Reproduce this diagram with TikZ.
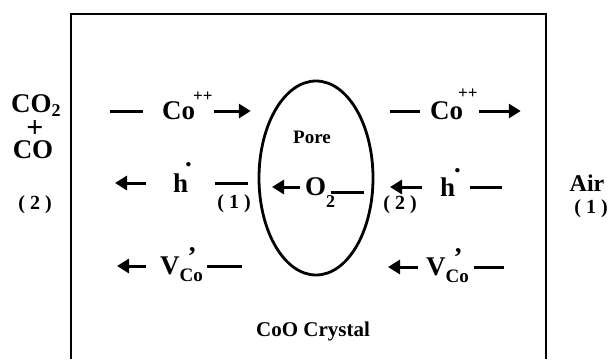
\documentclass[tikz,border=0pt]{standalone}
\usepackage{fontspec}
\setmainfont{Liberation Serif}
\usetikzlibrary{arrows.meta,shapes.geometric}

\newcommand{\sups}[2]{\smash{\raisebox{#1}{\fontsize{17}{17}\selectfont #2}}}
\newcommand{\subs}[2]{\smash{\raisebox{#1}{\fontsize{18}{18}\selectfont #2}}}

\begin{document}
\begin{tikzpicture}[x=1pt, y=-1pt, >={Triangle[length=12pt,width=14pt]},
  species/.style={font=\bfseries\fontsize{27}{27}\selectfont, inner sep=0pt},
  label/.style={font=\bfseries\fontsize{20}{20}\selectfont, inner sep=0pt},
  flux/.style={line width=3pt}]
\useasboundingbox (0,0) rectangle (612,359);
% crystal and pore
\draw[line width=2.5pt] (71,359) -- (71,14) -- (546,14) -- (546,359);
\node[draw, ellipse, line width=2.8pt, minimum width=114, minimum height=194] (pore) at (316,178) {};
\node[label, font=\bfseries\fontsize{19}{19}\selectfont] (poretxt) at (312,137) {Pore};
\node[label, font=\bfseries\fontsize{21}{21}\selectfont] (crystal) at (313,331) {CoO Crystal};
% gas sides
\node[species, anchor=west] (co2) at (11,104) {CO\subs{-4pt}{2}};
\node[species, font=\bfseries\fontsize{30}{30}\selectfont] (plus) at (35,129) {+};
\node[species] (co) at (33,150) {CO};
\node[label] (sideL) at (35,205) {( 2 )};
\node[species, font=\bfseries\fontsize{24}{24}\selectfont] (air) at (587,183) {Air};
\node[label] (sideR) at (591,209) {( 1 )};
% Co++ row
\node[species, anchor=west] (coL) at (162,111) {Co\kern-2pt\sups{18pt}{++}};
\draw[flux] ([xshift=-19pt]coL.west) -- ++(-33,0);
\draw[flux,->] ([xshift=1pt]coL.east) -- ++(37,0);
\node[species, anchor=west] (coR) at (430,111) {Co\kern-5pt\sups{21pt}{++}};
\draw[flux] ([xshift=-10pt]coR.west) -- ++(-30,0);
\draw[flux,->] ([xshift=1pt]coR.east) -- ++(42,0);
% hole row
\node[species, anchor=west] (hL) at (173,183) {h\kern-3pt\smash{\raisebox{26pt}{.}}};
\draw[flux,->] ([xshift=-27pt]hL.west) -- ++(-31,0);
\draw[flux] ([xshift=23pt]hL.east) -- ++(33,0);
\node[label] (stepL) at (234,204) {( 1 )};
\node[species, anchor=west] (o2) at (305,187) {O\subs{-12pt}{2}};
\draw[flux,->] ([xshift=-5pt]o2.west) -- ++(-28,0);
\draw[flux] ([xshift=-4pt,yshift=-5pt]o2.east) -- ++(33,0);
\node[label] (stepR) at (400,205) {( 2 )};
\node[species, anchor=west] (hR) at (440,187) {h\kern-1pt\smash{\raisebox{24pt}{.}}};
\draw[flux,->] ([xshift=-18pt]hR.west) -- ++(-32,0);
\draw[flux] ([xshift=9pt]hR.east) -- ++(32,0);
% vacancy row
\node[species, anchor=west] (vL) at (160,266) {V\smash{\rlap{\kern8pt\raisebox{9pt}{’}}\raisebox{-7pt}{\fontsize{19}{19}\selectfont Co}}};
\draw[flux,->] ([xshift=-14pt]vL.west) -- ++(-29,0);
\draw[flux] ([xshift=4pt]vL.east) -- ++(35,0);
\node[species, anchor=west] (vR) at (426,267) {V\smash{\rlap{\kern8pt\raisebox{9pt}{’}}\raisebox{-7pt}{\fontsize{19}{19}\selectfont Co}}};
\draw[flux,->] ([xshift=-8pt]vR.west) -- ++(-30,0);
\draw[flux] ([xshift=5pt]vR.east) -- ++(30,0);
\end{tikzpicture}
\end{document}
